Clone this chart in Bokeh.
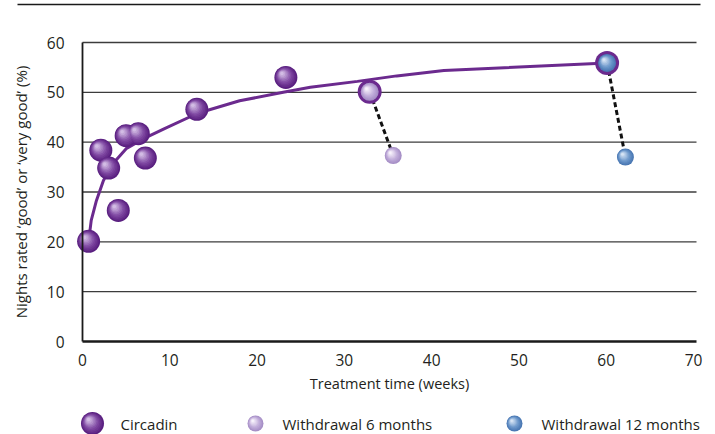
import numpy as np
from bokeh.plotting import figure
from bokeh.models import ColumnDataSource, Range1d, FixedTicker
from bokeh.transform import dodge
from bokeh.core.properties import value
from bokeh.embed import file_html
from bokeh.resources import INLINE

# ---------------- data ----------------
circadin_weeks = [0.7, 2.1, 3.0, 4.1, 5.0, 6.4, 7.2, 13.1, 23.3, 32.9, 60.1]
circadin_pct = [20.1, 38.4, 34.8, 26.3, 41.3, 41.7, 36.8, 46.6, 53.0, 50.1, 55.9]

fit_weeks = [0.7, 1.0, 1.6, 2.4, 3.5, 5.0, 7.0, 9.4, 13.2, 18.0, 23.0, 26.1, 31.5, 36.0, 41.4, 60.1]
fit_pct = [20.1, 24.3, 28.3, 32.3, 35.7, 38.7, 40.7, 42.7, 45.8, 48.3, 50.0, 51.0, 52.2, 53.3, 54.4, 55.9]

withdrawal6_start_week = [32.9]
withdrawal6_start_pct = [50.1]
withdrawal6_weeks = [35.6]
withdrawal6_pct = [37.3]

withdrawal12_start_week = [60.1]
withdrawal12_start_pct = [55.9]
withdrawal12_weeks = [62.2]
withdrawal12_pct = [37.0]

x_ticks = [0, 10, 20, 30, 40, 50, 60, 70]
y_ticks = [0, 10, 20, 30, 40, 50, 60]
legend_labels = ["Circadin", "Withdrawal 6 months", "Withdrawal 12 months"]

# ---------------- layout constants (pixels in the figure) ----------------
W, H = 715, 434
X0_PX, X70_PX = 82, 693      # screen x of week 0 and week 70
Y0_PX, Y60_PX = 341, 42      # screen y of 0% and 60%
PX_X = (X70_PX - X0_PX) / 70.0
PX_Y = (Y0_PX - Y60_PX) / 60.0

x_range = Range1d(-X0_PX / PX_X, (W - X0_PX) / PX_X)
y_range = Range1d(-(H - Y0_PX) / PX_Y, Y0_PX / PX_Y)

FONT = "Open Sans"
TEXT_COL = "#231f20"
PURPLE = "#6b2a8e"


def sx(px):
    return (px - X0_PX) / PX_X


def sy(py):
    return (Y0_PX - py) / PX_Y


p = figure(width=W, height=H, x_range=x_range, y_range=y_range,
           output_backend="svg", toolbar_location=None, min_border=0,
           outline_line_color=None, background_fill_color="white",
           border_fill_color="white")
p.xgrid.visible = False
p.ygrid.visible = False

# axes placed inside the canvas at data 0
for ax in (p.xaxis[0], p.yaxis[0]):
    ax.fixed_location = 0
    ax.major_tick_in = 0
    ax.major_tick_out = 0
    ax.minor_tick_in = 0
    ax.minor_tick_out = 0
    ax.major_label_text_font = FONT
    ax.major_label_text_font_size = "15.5px"
    ax.major_label_text_color = TEXT_COL
    ax.axis_label_text_font = FONT
    ax.axis_label_text_font_style = "normal"
    ax.axis_label_text_color = TEXT_COL
    ax.axis_line_color = "#1a1a1a"

x_end = sx(696)
p.xaxis.ticker = FixedTicker(ticks=x_ticks)
p.xaxis.bounds = (0, x_end)
p.xaxis.axis_line_width = 2.6
p.xaxis.major_label_standoff = 12
p.xaxis.axis_label = "Treatment time (weeks)"
p.xaxis.axis_label_text_font_size = "14.5px"
p.xaxis.axis_label_standoff = 5

p.yaxis.ticker = FixedTicker(ticks=y_ticks)
p.yaxis.bounds = (0, 60)
p.yaxis.axis_line_width = 1.8
p.yaxis.major_label_standoff = 18
p.yaxis.axis_label = "Nights rated \u2018good\u2019 or \u2018very good\u2019 (%)"
p.yaxis.axis_label_text_font_size = "15px"
p.yaxis.axis_label_standoff = 13

# horizontal grid lines across the plot region
grid_y = [t for t in y_ticks if t > 0]
p.segment(x0=[0] * len(grid_y), x1=[x_end] * len(grid_y), y0=grid_y, y1=grid_y,
          line_color="#3c3c3c", line_width=1.3)

# top rule of the page
p.segment(x0=[sx(17)], x1=[sx(700)], y0=[sy(4)], y1=[sy(4)],
          line_color="#1a1a1a", line_width=1.3)

# fitted curve
p.line(fit_weeks, fit_pct, line_color=PURPLE, line_width=3)

# dashed withdrawal lines
p.segment(x0=withdrawal6_start_week + withdrawal12_start_week,
          y0=withdrawal6_start_pct + withdrawal12_start_pct,
          x1=withdrawal6_weeks + withdrawal12_weeks,
          y1=withdrawal6_pct + withdrawal12_pct,
          line_color="#111111", line_width=3, line_dash="5 3")


def hex_rgb(h):
    h = h.lstrip("#")
    return [int(h[i:i + 2], 16) for i in (0, 2, 4)]


def mix(a, b, t):
    ca, cb = hex_rgb(a), hex_rgb(b)
    return "#%02x%02x%02x" % tuple(int(round(ca[i] + (cb[i] - ca[i]) * t)) for i in range(3))


def sphere(xs, ys, size, edge, base, light, n=10):
    src = ColumnDataSource(dict(x=list(xs), y=list(ys)))
    for i in range(n):
        t = i / (n - 1)
        s = size * (1 - 0.85 * t)
        off = size * 0.17 * t
        if t < 0.4:
            col = mix(edge, base, t / 0.4)
        else:
            col = mix(base, light, (t - 0.4) / 0.6)
        p.scatter(x=dodge("x", -off / PX_X, range=p.x_range),
                  y=dodge("y", off / PX_Y, range=p.y_range),
                  size=s, fill_color=col, line_color=None, source=src)


CIRC = ("#5a2080", "#8049a3", "#d2bce4")
W6 = ("#a68fc6", "#c2aedb", "#f7f2fb")
W12 = ("#4a78b3", "#6e99cc", "#d6e4f4")

starts = set(withdrawal6_start_week + withdrawal12_start_week)
plain = [(x, y) for x, y in zip(circadin_weeks, circadin_pct) if x not in starts]
sphere([a for a, _ in plain], [b for _, b in plain], 23, *CIRC)

# ringed Circadin points where withdrawal starts
p.scatter(withdrawal6_start_week + withdrawal12_start_week,
          withdrawal6_start_pct + withdrawal12_start_pct,
          size=24, fill_color=PURPLE, line_color=None)
sphere(withdrawal6_start_week, withdrawal6_start_pct, 18, *W6)
sphere(withdrawal12_start_week, withdrawal12_start_pct, 18, *W12)

# withdrawal points
sphere(withdrawal6_weeks, withdrawal6_pct, 17, *W6)
sphere(withdrawal12_weeks, withdrawal12_pct, 17, *W12)

# legend (manual)
leg_y = sy(423)
ball_x = [sx(92), sx(255), sx(514)]
text_x = [sx(120), sx(282), sx(541)]
sphere([ball_x[0]], [leg_y], 23, *CIRC)
sphere([ball_x[1]], [leg_y], 16, *W6)
sphere([ball_x[2]], [leg_y], 16, *W12)
p.text(x=text_x, y=[leg_y] * 3, text=legend_labels,
       text_font=value(FONT), text_font_size="15px", text_color=TEXT_COL,
       text_baseline="middle", text_align="left")

open("out.html", "w").write(file_html(p, INLINE))
